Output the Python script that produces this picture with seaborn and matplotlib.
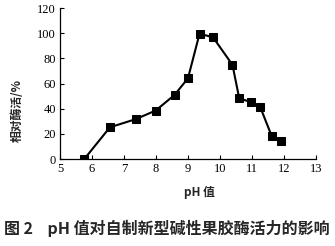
import matplotlib
matplotlib.use("Agg")
import matplotlib.pyplot as plt
import seaborn as sns
import pandas as pd

ph = [5.76, 6.56, 7.36, 7.99, 8.58, 9.0, 9.36, 9.78, 10.39, 10.6, 10.97, 11.26, 11.61, 11.9]
activity = [0, 25.2, 31.6, 38.5, 50.9, 64.2, 99.5, 96.8, 74.8, 48.3, 45.1, 41.1, 18.6, 14.6]
x_ticks = [5, 6, 7, 8, 9, 10, 11, 12, 13]
y_ticks = [0, 20, 40, 60, 80, 100, 120]

sns.set_theme(style="white")
plt.rcParams['font.family'] = ['Liberation Serif', 'Noto Sans CJK SC']

df = pd.DataFrame({"pH": ph, "act": activity})

W, H = 335, 246
fig = plt.figure(figsize=(W / 100, H / 100), dpi=100)
ax = fig.add_axes([60 / W, 1 - 159 / H, (316 - 60) / W, (159 - 8) / H])

sns.lineplot(data=df, x="pH", y="act", ax=ax, color="black", linewidth=1.5,
             marker="s", markersize=5.5, markeredgecolor="black",
             markerfacecolor="black", sort=False)

ax.set_xlim(5, 13)
ax.set_ylim(0, 120)
ax.set_xticks(x_ticks)
ax.set_yticks(y_ticks)
ax.set_xticklabels([str(t) for t in x_ticks], fontsize=9)
ax.set_yticklabels([str(t) for t in y_ticks], fontsize=9)
ax.tick_params(axis="both", direction="in", length=3, width=0.8, color="black",
               labelcolor="black", pad=3)
ax.tick_params(axis="x", bottom=True)
ax.tick_params(axis="y", left=True)
for s in ["top", "right"]:
    ax.spines[s].set_visible(False)
for s in ["left", "bottom"]:
    ax.spines[s].set_color("black")
    ax.spines[s].set_linewidth(0.9)
ax.set_xlabel("")
ax.set_ylabel("")

cjk = ['Noto Sans CJK SC', 'DejaVu Sans']
fig.text(17 / W, 1 - 110 / H, "相对酶活/%", rotation=90, ha="center", va="center",
         fontsize=8.5, fontweight="bold", family=cjk)
fig.text(199 / W, 1 - 192 / H, "pH 值", ha="center", va="center",
         fontsize=8.5, fontweight="bold", family=cjk)
fig.text(167 / W, 1 - 228 / H, "图 2    pH 值对自制新型碱性果胶酶活力的影响", ha="center",
         va="center", fontsize=11.5, fontweight="bold", family=cjk)

fig.savefig("out.png", dpi=100, facecolor="white")
